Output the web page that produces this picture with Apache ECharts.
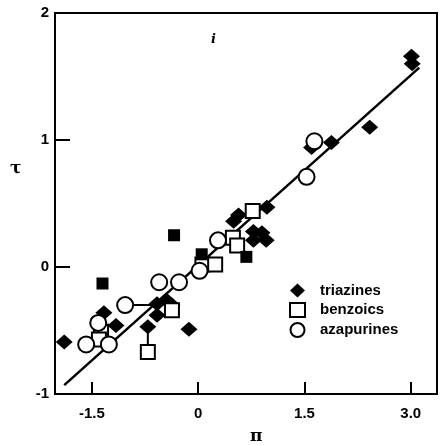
<!DOCTYPE html>
<html>
<head>
<meta charset="utf-8">
<script src="https://cdn.jsdelivr.net/npm/echarts@6/dist/echarts.min.js"></script>
<style>
  html, body { margin: 0; padding: 0; background: #fff; }
  #chart { width: 442px; height: 445px; }
</style>
</head>
<body>
<div id="chart"></div>
<script>
// Hydrophobicity: tau vs pi for three compound classes
const triazines = [
  [-1.89, -0.59], [-1.33, -0.36], [-1.16, -0.46], [-0.58, -0.29],
  [-0.45, -0.26], [-0.37, -0.30], [-0.58, -0.38], [-0.71, -0.47],
  [-0.13, -0.49], [0.50, 0.36], [0.57, 0.41], [0.97, 0.47],
  [0.78, 0.28], [0.90, 0.27], [0.78, 0.21], [0.96, 0.21],
  [1.60, 0.94], [1.88, 0.98], [2.42, 1.10], [3.01, 1.66], [3.02, 1.60]
];
const benzoics = [
  [-1.37, -0.51], [-1.40, -0.57], [-0.37, -0.34], [-0.71, -0.67],
  [0.06, 0.02], [0.24, 0.02], [0.49, 0.23], [0.55, 0.17], [0.77, 0.44]
];
const benzoicsSolid = [
  [-1.35, -0.13], [-0.34, 0.25], [0.05, 0.10], [0.68, 0.08]
];
const azapurines = [
  [-1.58, -0.61], [-1.26, -0.61], [-1.41, -0.44], [-1.03, -0.30],
  [-0.55, -0.12], [-0.27, -0.12], [0.02, -0.03], [0.28, 0.21],
  [1.53, 0.71], [1.64, 0.99]
];
const fitLine = [[-1.89, -0.93], [3.12, 1.57]];
const connectors = [
  [[-1.03, -0.30], [-0.50, -0.30]],
  [[-0.71, -0.47], [-0.71, -0.64]]
];
const xTickValues = [-1.5, 0, 1.5, 3.0];
const xTickLabels = ['-1.5', '0', '1.5', '3.0'];
const yTickLabels = { '-1': '-1', '0': '0', '1': '1', '2': '2' };

const FONT = 'Liberation Sans';
const chart = echarts.init(document.getElementById('chart'), null, { renderer: 'canvas' });

const connectorSeries = connectors.map(seg => ({
  type: 'line', data: seg, symbol: 'none', silent: true,
  lineStyle: { color: '#000', width: 2 }, z: 1
}));

chart.setOption({
  animation: false,
  backgroundColor: '#fff',
  grid: {
    left: 55, right: 5, top: 13, bottom: 51,
    show: true, borderColor: '#000', borderWidth: 2, backgroundColor: 'transparent'
  },
  xAxis: {
    type: 'value', min: -2.02, max: 3.37,
    splitLine: { show: false },
    axisLine: { show: true, onZero: false, lineStyle: { color: '#000', width: 2 } },
    axisTick: { show: true, inside: true, length: 12, customValues: xTickValues,
                lineStyle: { color: '#000', width: 2 } },
    axisLabel: {
      customValues: xTickValues, margin: 12,
      formatter: v => xTickLabels[xTickValues.indexOf(v)] ?? '',
      color: '#000', fontFamily: FONT, fontWeight: 'bold', fontSize: 15
    }
  },
  yAxis: {
    type: 'value', min: -1, max: 2, interval: 1,
    splitLine: { show: false },
    axisLine: { show: true, onZero: false, lineStyle: { color: '#000', width: 2 } },
    axisTick: { show: true, inside: true, length: 15, lineStyle: { color: '#000', width: 2 } },
    axisLabel: {
      margin: 6, formatter: v => yTickLabels[String(v)] ?? '',
      color: '#000', fontFamily: FONT, fontWeight: 'bold', fontSize: 15
    }
  },
  legend: {
    orient: 'vertical', left: 284, top: 278, itemGap: 4,
    itemWidth: 15, itemHeight: 14,
    textStyle: { color: '#000', fontFamily: FONT, fontSize: 15, fontWeight: 'bold',
                 padding: [0, 0, 0, 10] },
    data: [
      { name: 'triazines', icon: 'diamond' },
      { name: 'benzoics', icon: 'rect' },
      { name: 'azapurines', icon: 'circle' }
    ]
  },
  graphic: [
    { type: 'text', left: 10, top: 160,
      style: { text: 'τ', font: 'bold 17px "DejaVu Serif"', fill: '#000' } },
    { type: 'text', left: 250, top: 428,
      style: { text: 'π', font: 'bold 17px "DejaVu Serif"', fill: '#000' } },
    { type: 'text', left: 211, top: 33,
      style: { text: 'i', font: 'italic bold 13px "DejaVu Serif"', fill: '#000' } }
  ],
  series: [
    { type: 'line', data: fitLine, symbol: 'none', silent: true,
      lineStyle: { color: '#000', width: 2.5 }, z: 1 },
    ...connectorSeries,
    { name: 'triazines', type: 'scatter', data: triazines, symbol: 'diamond',
      symbolSize: [17, 15], itemStyle: { color: '#000', opacity: 1 }, z: 3 },
    { name: 'benzoics', type: 'scatter', data: benzoics, symbol: 'rect',
      symbolSize: 14, itemStyle: { color: '#fff', borderColor: '#000', borderWidth: 2, opacity: 1 }, z: 4 },
    { name: 'benzoics-solid', type: 'scatter', data: benzoicsSolid, symbol: 'rect',
      symbolSize: 12, itemStyle: { color: '#000', opacity: 1 }, z: 4 },
    { name: 'azapurines', type: 'scatter', data: azapurines, symbol: 'circle',
      symbolSize: 16, itemStyle: { color: '#fff', borderColor: '#000', borderWidth: 2, opacity: 1 }, z: 5 }
  ]
});
</script>
</body>
</html>
